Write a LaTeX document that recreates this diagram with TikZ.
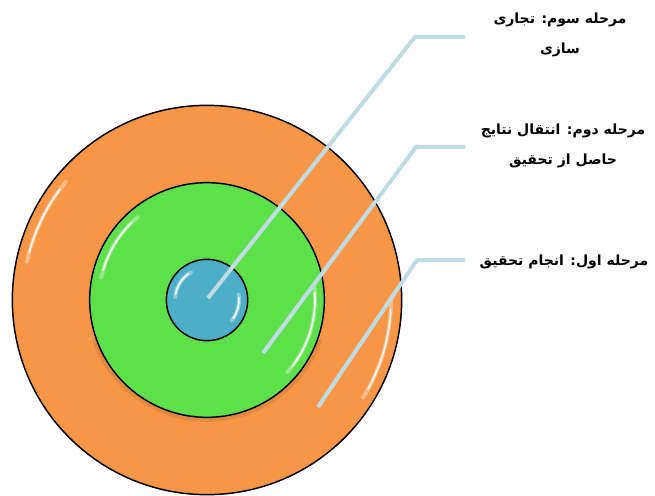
\documentclass[tikz,border=0pt]{standalone}
\usepackage{fontspec}
\newfontfamily\arabicfont[Script=Arabic]{DejaVu Sans}
\TeXXeTstate=1
\definecolor{ringorange}{HTML}{F79646}
\definecolor{ringgreen}{HTML}{5DE04A}
\definecolor{ringblue}{HTML}{4DAEC8}
\definecolor{leader}{HTML}{BFDCE5}
\tikzset{
  disc/.style={circle, draw=black, line width=1.1pt, inner sep=0pt, outer sep=0pt},
  glossa/.style={draw=white, line width=3pt, opacity=0.35, line cap=round},
  glossb/.style={draw=white, line width=1.2pt, opacity=0.9, line cap=round},
  shade/.style={draw=black, line width=3pt, opacity=0.08, line cap=round},
  leaderline/.style={draw=leader, line width=3pt},
  label/.style={font=\arabicfont\bfseries\fontsize{10.5}{23}\selectfont, align=center, text=black}
}
\begin{document}
\begin{tikzpicture}[x=0.75pt,y=-0.75pt]
\useasboundingbox (0,0) rectangle (655,495);
\fill[white] (0,0) rectangle (655,495);
% discs
\node[disc, fill=ringorange, minimum size=292pt] (outer) at (207,300) {};
\draw[shade] ([shift={(-200:120)}]outer.center) arc[start angle=-200, end angle=-340, radius=120];
\node[disc, fill=ringgreen, minimum size=176pt] (middle) at (207,300) {};
\node[disc, fill=ringblue, minimum size=61pt] (inner) at (207,300) {};
% gloss on outer
\draw[glossa] ([shift={(-140:184)}]outer.center) arc[start angle=-140, end angle=-168, radius=184];
\draw[glossb] ([shift={(-143:184)}]outer.center) arc[start angle=-143, end angle=-165, radius=184];
\draw[glossa] ([shift={(0:184)}]outer.center) arc[start angle=0, end angle=32, radius=184];
\draw[glossb] ([shift={(3:184)}]outer.center) arc[start angle=3, end angle=29, radius=184];
% gloss on middle
\draw[glossa] ([shift={(-130:108)}]middle.center) arc[start angle=-130, end angle=-168, radius=108];
\draw[glossb] ([shift={(-134:108)}]middle.center) arc[start angle=-134, end angle=-164, radius=108];
\draw[glossa] ([shift={(-8:108)}]middle.center) arc[start angle=-8, end angle=42, radius=108];
\draw[glossb] ([shift={(-4:108)}]middle.center) arc[start angle=-4, end angle=38, radius=108];
% gloss on inner
\draw[glossa] ([shift={(-120:32)}]inner.center) arc[start angle=-120, end angle=-175, radius=32];
\draw[glossb] ([shift={(-125:32)}]inner.center) arc[start angle=-125, end angle=-170, radius=32];
\draw[glossa] ([shift={(-10:32)}]inner.center) arc[start angle=-10, end angle=40, radius=32];
\draw[glossb] ([shift={(-5:32)}]inner.center) arc[start angle=-5, end angle=35, radius=32];
% labels
\node[label] (t3) at (560,35) {\beginR مرحله سوم: تجاری\endR\\\beginR سازی\endR};
\node[label] (t2) at (563,146) {\beginR مرحله دوم: انتقال نتایج\endR\\\beginR حاصل از تحقیق\endR};
\node[label] (t1) at (564,262) {\beginR مرحله اول: انجام تحقیق\endR};
% leader coordinates
\coordinate (a3) at (208,298);
\coordinate (b3) at (415,37);
\coordinate (c3) at (465,37);
\coordinate (a2) at (263,353);
\coordinate (b2) at (416,147);
\coordinate (c2) at (465,147);
\coordinate (a1) at (318,407);
\coordinate (b1) at (417,260);
\coordinate (c1) at (465,260);
\draw[leaderline] (a3) -- (b3) -- (c3);
\draw[leaderline] (a2) -- (b2) -- (c2);
\draw[leaderline] (a1) -- (b1) -- (c1);
\end{tikzpicture}
\end{document}
